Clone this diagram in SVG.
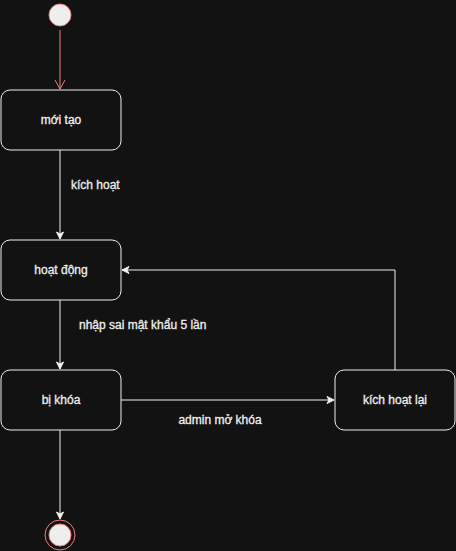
<svg xmlns="http://www.w3.org/2000/svg" width="456" height="551" viewBox="0 0 456 551">
<defs>
<style>
.node{fill:#121212;stroke:#f0f0f0;stroke-width:1}
.lbl{font-family:"Liberation Sans",Arial,sans-serif;font-size:12px;fill:#f0f0f0;stroke:#f0f0f0;stroke-width:0.3}
.c{text-anchor:middle}
.edge{fill:none;stroke:#f0f0f0;stroke-width:1}
</style>
<marker id="arr" markerWidth="10" markerHeight="10" refX="8" refY="5" orient="auto" markerUnits="userSpaceOnUse">
<path d="M1,1.5 L8,5 L1,8.5 L3,5 Z" fill="#f0f0f0" stroke="#f0f0f0" stroke-width="1"/>
</marker>
<marker id="open" markerWidth="14" markerHeight="14" refX="10" refY="7" orient="auto" markerUnits="userSpaceOnUse">
<path d="M1,2 L10,7 L1,12" fill="none" stroke="#f08080" stroke-width="1"/>
</marker>
</defs>
<rect width="456" height="551" fill="#121212"/>
<g id="connectors">
<line x1="60" y1="30" x2="60" y2="89" stroke="#f08080" stroke-width="1" marker-end="url(#open)"/>
<line class="edge" x1="60" y1="150" x2="60" y2="239" marker-end="url(#arr)"/>
<text class="lbl" x="71" y="189">kích hoạt</text>
<line class="edge" x1="60" y1="300" x2="60" y2="369" marker-end="url(#arr)"/>
<text class="lbl" x="79" y="329">nhập sai mật khẩu 5 lần</text>
<line class="edge" x1="121" y1="400" x2="334" y2="400" marker-end="url(#arr)"/>
<text class="lbl c" x="220" y="424">admin mở khóa</text>
<polyline class="edge" points="395,370 395,270 122,270" marker-end="url(#arr)"/>
<line class="edge" x1="60" y1="430" x2="60" y2="519" marker-end="url(#arr)"/>
</g>
<g id="start">
<circle cx="60" cy="15" r="11" fill="#eeeeee" stroke="#f08080" stroke-width="1"/>
</g>
<g id="moi-tao">
<rect class="node" x="1" y="90" width="120" height="60" rx="9"/>
<text class="lbl c" x="61" y="124">mới tạo</text>
</g>
<g id="hoat-dong">
<rect class="node" x="1" y="240" width="120" height="60" rx="9"/>
<text class="lbl c" x="61" y="274">hoạt động</text>
</g>
<g id="bi-khoa">
<rect class="node" x="1" y="370" width="120" height="60" rx="9"/>
<text class="lbl c" x="61" y="404">bị khóa</text>
</g>
<g id="kich-hoat-lai">
<rect class="node" x="335" y="370" width="120" height="60" rx="9"/>
<text class="lbl c" x="395" y="404">kích hoạt lại</text>
</g>
<g id="end">
<circle cx="60" cy="535" r="15" fill="#121212" stroke="#f08080" stroke-width="1"/>
<circle cx="60" cy="535" r="11" fill="#eeeeee" stroke="#f08080" stroke-width="1"/>
</g>
</svg>
